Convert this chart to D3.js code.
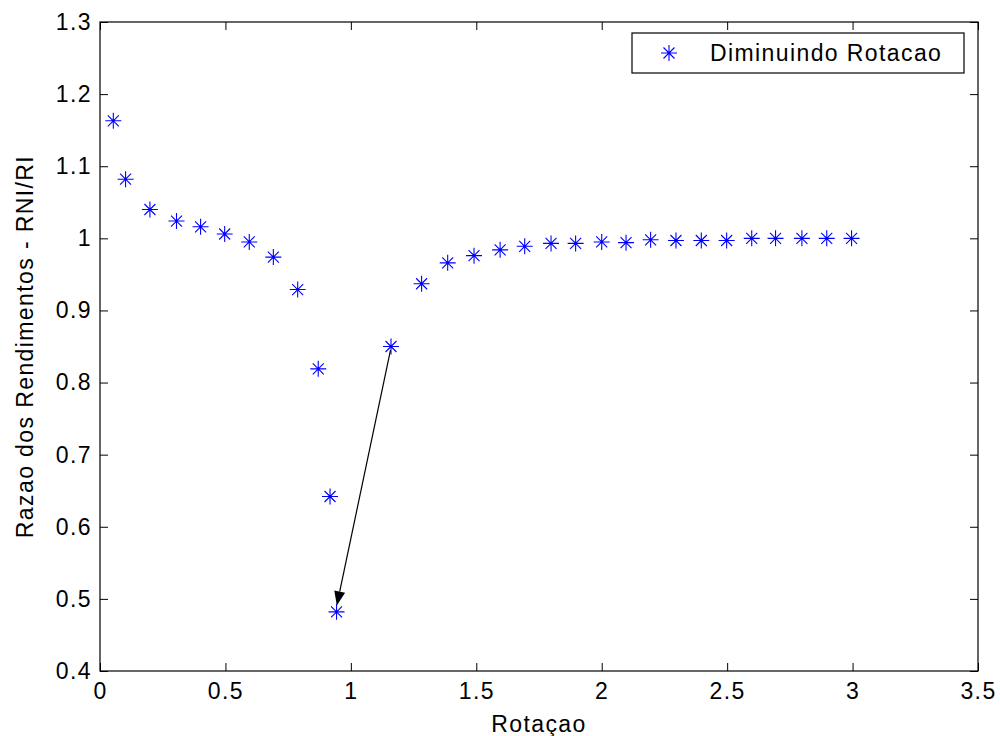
<!DOCTYPE html>
<html>
<head>
<meta charset="utf-8">
<script src="https://cdn.jsdelivr.net/npm/d3@7"></script>
<style>
  html, body { margin: 0; padding: 0; background: #fff; }
  svg text { font-family: "Liberation Sans", Arial, Helvetica, sans-serif; fill: #000; letter-spacing: 1.4px; }
</style>
</head>
<body>
<svg id="chart" width="1000" height="736"></svg>
<script>
// ---- data ----
const rotacao = [0.053, 0.102, 0.199, 0.305, 0.401, 0.497, 0.595, 0.691, 0.788, 0.870, 0.917, 0.943,
                 1.160, 1.282, 1.386, 1.491, 1.595, 1.693, 1.798, 1.896, 2.0, 2.097, 2.195, 2.296,
                 2.397, 2.498, 2.598, 2.693, 2.798, 2.897, 2.996];
const razao = [1.163, 1.082, 1.040, 1.024, 1.016, 1.006, 0.995, 0.974, 0.929, 0.819, 0.642, 0.482,
               0.850, 0.937, 0.966, 0.976, 0.984, 0.989, 0.993, 0.993, 0.995, 0.994, 0.998, 0.997,
               0.997, 0.997, 1.0, 1.0, 1.0, 1.0, 1.0];
const xTicks = [0, 0.5, 1, 1.5, 2, 2.5, 3, 3.5];
const yTicks = [0.4, 0.5, 0.6, 0.7, 0.8, 0.9, 1.0, 1.1, 1.2, 1.3];
const xTickLabels = ["0", "0.5", "1", "1.5", "2", "2.5", "3", "3.5"];
const yTickLabels = ["0.4", "0.5", "0.6", "0.7", "0.8", "0.9", "1", "1.1", "1.2", "1.3"];
const arrowFrom = [1.158, 0.845];
const arrowTo = [0.944, 0.491];
const legendLabel = "Diminuindo Rotacao";
const xLabel = "Rotaçao";
const yLabel = "Razao dos Rendimentos - RNI/RI";

// ---- layout ----
const L = 100, R = 978, T = 22, B = 671;
const svg = d3.select("#chart");
const x = d3.scaleLinear().domain([0, 3.5]).range([L, R]);
const y = d3.scaleLinear().domain([0.4, 1.3]).range([B, T]);
const fs = 23;
const blue = "#0000ff";

// frame
svg.append("rect").attr("x", L).attr("y", T).attr("width", R - L).attr("height", B - T)
  .attr("fill", "none").attr("stroke", "#000").attr("stroke-width", 1.2);

// axes with inward ticks
const tl = 8;
const xb = svg.append("g").attr("transform", `translate(0,${B})`)
  .call(d3.axisBottom(x).tickValues(xTicks).tickSize(-tl).tickPadding(12)
    .tickFormat((d, i) => xTickLabels[i]));
const xt = svg.append("g").attr("transform", `translate(0,${T})`)
  .call(d3.axisTop(x).tickValues(xTicks).tickSize(-tl).tickFormat(""));
const yl = svg.append("g").attr("transform", `translate(${L},0)`)
  .call(d3.axisLeft(y).tickValues(yTicks).tickSize(-tl).tickPadding(8)
    .tickFormat((d, i) => yTickLabels[i]));
const yr = svg.append("g").attr("transform", `translate(${R},0)`)
  .call(d3.axisRight(y).tickValues(yTicks).tickSize(-tl).tickFormat(""));
[xb, xt, yl, yr].forEach(g => {
  g.select(".domain").remove();
  g.selectAll(".tick line").attr("stroke", "#000").attr("stroke-width", 1);
  g.selectAll("text").attr("font-size", fs).attr("font-family", "Liberation Sans, Arial, sans-serif").attr("fill", "#000");
});
xb.selectAll("text").attr("dy", "0.71em");

// axis labels
svg.append("text").attr("x", (L + R) / 2).attr("y", 732).attr("text-anchor", "middle")
  .attr("font-size", fs).text(xLabel);
svg.append("text").attr("transform", `translate(33,${(T + B) / 2}) rotate(-90)`)
  .attr("text-anchor", "middle").attr("font-size", fs).text(yLabel);

// asterisk marker
function asterisk(g, cx, cy) {
  const a = 8, d = 5.5;
  const p = `M${cx - a},${cy}H${cx + a}M${cx},${cy - a}V${cy + a}` +
            `M${cx - d},${cy - d}L${cx + d},${cy + d}M${cx - d},${cy + d}L${cx + d},${cy - d}`;
  g.append("path").attr("d", p).attr("stroke", blue).attr("stroke-width", 1.1).attr("fill", "none");
}
const pts = svg.append("g");
rotacao.forEach((v, i) => asterisk(pts, x(v), y(razao[i])));

// arrow
const x1 = x(arrowFrom[0]), y1 = y(arrowFrom[1]), x2 = x(arrowTo[0]), y2 = y(arrowTo[1]);
const ang = Math.atan2(y2 - y1, x2 - x1);
const hl = 14, hw = 5.5;
const bx = x2 - hl * Math.cos(ang), by = y2 - hl * Math.sin(ang);
svg.append("line").attr("x1", x1).attr("y1", y1).attr("x2", bx).attr("y2", by)
  .attr("stroke", "#000").attr("stroke-width", 1.2);
svg.append("path")
  .attr("d", `M${x2},${y2}L${bx + hw * Math.sin(ang)},${by - hw * Math.cos(ang)}L${bx - hw * Math.sin(ang)},${by + hw * Math.cos(ang)}Z`)
  .attr("fill", "#000");

// legend
const lg = svg.append("g");
lg.append("rect").attr("x", 632).attr("y", 33).attr("width", 332).attr("height", 40)
  .attr("fill", "#fff").attr("stroke", "#000").attr("stroke-width", 1.2);
asterisk(lg, 669, 53);
lg.append("text").attr("x", 710).attr("y", 61).attr("font-size", fs).text(legendLabel);
</script>
</body>
</html>
